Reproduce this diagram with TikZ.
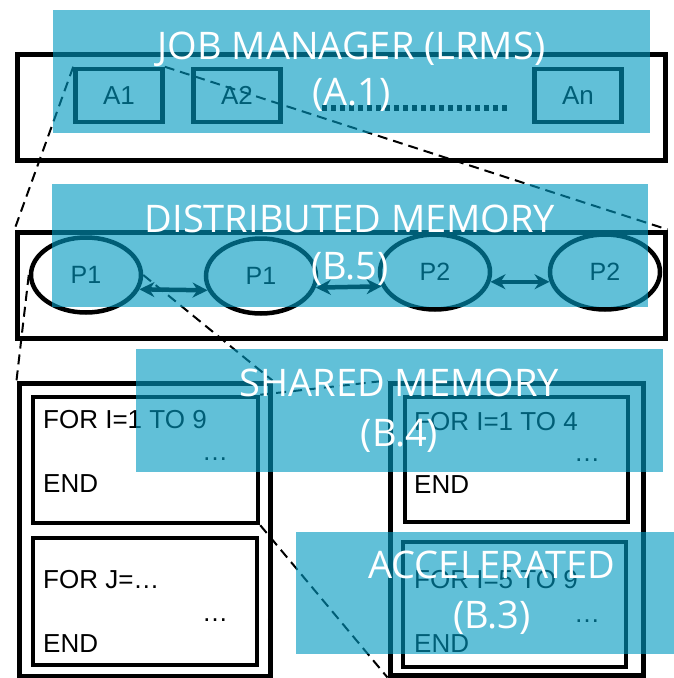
\documentclass[tikz,border=0pt]{standalone}
\usepackage{fontspec}
\setmainfont{Liberation Sans}
\newfontfamily\titelfont{Open Sans}
\usetikzlibrary{arrows.meta, shapes.geometric}
\definecolor{folie}{HTML}{0099C0}

\begin{document}
\begin{tikzpicture}[x=1pt, y=-1pt,
    rahmen/.style={draw=black, line width=5pt, inner sep=0pt},
    kasten/.style={draw=black, line width=4.5pt, inner sep=0pt,
      minimum width=87pt, minimum height=53pt, font=\fontsize{26}{28}\selectfont},
    proz/.style={ellipse, draw=black, line width=4.5pt, inner sep=0pt,
      minimum width=110pt, minimum height=75pt, font=\fontsize{25}{28}\selectfont},
    code/.style={anchor=base west, inner sep=0pt, font=\fontsize{26}{28}\selectfont},
    punkte/.style={anchor=base, inner sep=0pt, font=\fontsize{26}{28}\selectfont},
    lupe/.style={black, line width=2pt, dash pattern=on 10pt off 6pt},
    nachricht/.style={black, line width=4.5pt,
      {Stealth[length=15pt, width=15pt]}-{Stealth[length=15pt, width=15pt]}},
    ebene/.style={fill=folie, fill opacity=0.62, text opacity=1, text=white,
      inner sep=0pt, align=center, font=\titelfont\fontsize{38}{50}\selectfont}]
  \useasboundingbox (0,0) rectangle (674,678);

  % --- Ebene A.1: Job Manager ---
  \node[rahmen, minimum width=648pt, minimum height=106pt] (jmbox) at (341,107) {};
  \node[kasten] (a1) at (119,95.5) {A1};
  \node[kasten] (a2) at (237,95.5) {A2};
  \node[kasten] (an) at (578,95.5) {An};
  \coordinate (dots-a) at (322,108);
  \coordinate (dots-b) at (508,108);
  \draw[black, line width=5.5pt, dash pattern=on 5pt off 4pt] (dots-a) -- (dots-b);

  % --- Ebene B.5: verteilter Speicher ---
  \node[rahmen, minimum width=648pt, minimum height=106pt] (verteilt) at (341,285) {};
  \node[proz] (e1) at (86,275) {P1};
  \node[proz] (e2) at (261,276) {P1};
  \node[proz] (e3) at (435,272) {P2};
  \node[proz] (e4) at (605,272) {P2};
  \draw[nachricht] (e1.-15) -- (e2.195);
  \draw[nachricht] (e2.-12) -- (e3.195);
  \draw[nachricht] (e3.-10) -- (e4.190);

  % --- Ebene B.4 / B.3: Schleifen ---
  \node[rahmen, minimum width=251pt, minimum height=293pt] (links) at (144.5,529.5) {};
  \node[rahmen, line width=4.5pt, minimum width=225pt, minimum height=126pt] (l1) at (145.5,460) {};
  \node[rahmen, line width=4.5pt, minimum width=224pt, minimum height=127pt] (l2) at (145,601.5) {};
  \node[code] (l1a) at (43,428) {FOR I=1 TO 9};
  \node[punkte] (l1b) at (215,460) {\dots};
  \node[code] (l1c) at (43,492) {END};
  \node[code] (l2a) at (43,588) {FOR J=\dots};
  \node[punkte] (l2b) at (215,621) {\dots};
  \node[code] (l2c) at (43,652) {END};

  \node[rahmen, minimum width=253pt, minimum height=292pt] (rechts) at (516.5,529) {};
  \node[rahmen, line width=4.5pt, minimum width=223pt, minimum height=125pt] (r1) at (516.5,459.5) {};
  \node[rahmen, line width=4.5pt, minimum width=223pt, minimum height=125pt] (r2) at (514.5,604.5) {};
  \node[code] (r1a) at (414,430) {FOR I=1 TO 4};
  \node[punkte] (r1b) at (587,461) {\dots};
  \node[code] (r1c) at (414,493) {END};
  \node[code] (r2a) at (414,588) {FOR I=5 TO 9};
  \node[punkte] (r2b) at (587,622) {\dots};
  \node[code] (r2c) at (414,652) {END};

  % Lupenlinien zwischen den Ebenen
  \draw[lupe] (a1.north west) -- (verteilt.north west);
  \draw[lupe] (a1.north east) -- (verteilt.north east);
  \draw[lupe] (e1.west) -- (links.north west);
  \draw[lupe] (e1.east) -- (links.north east);
  \draw[lupe] (l1.north east) -- (rechts.north west);
  \draw[lupe] (l1.south east) -- (rechts.south west);

  % --- halbtransparente Beschriftungsfolien ---
  \node[ebene, minimum width=597pt, minimum height=123pt] (jm) at (351.5,71.5)
    {\raisebox{-4pt}{JOB MANAGER (LRMS)}\\(A.1)};
  \node[ebene, minimum width=596pt, minimum height=123pt] (dm) at (350,245.5)
    {\raisebox{-3pt}{DISTRIBUTED MEMORY}\\(B.5)};
  \node[ebene, minimum width=527pt, minimum height=123pt] (sm) at (399.5,410.5)
    {SHARED MEMORY\\(B.4)};
  \node[ebene, minimum width=392pt, minimum height=122pt] (acc) at (492,593)
    {ACCELERATED\\(B.3)};
\end{tikzpicture}
\end{document}
